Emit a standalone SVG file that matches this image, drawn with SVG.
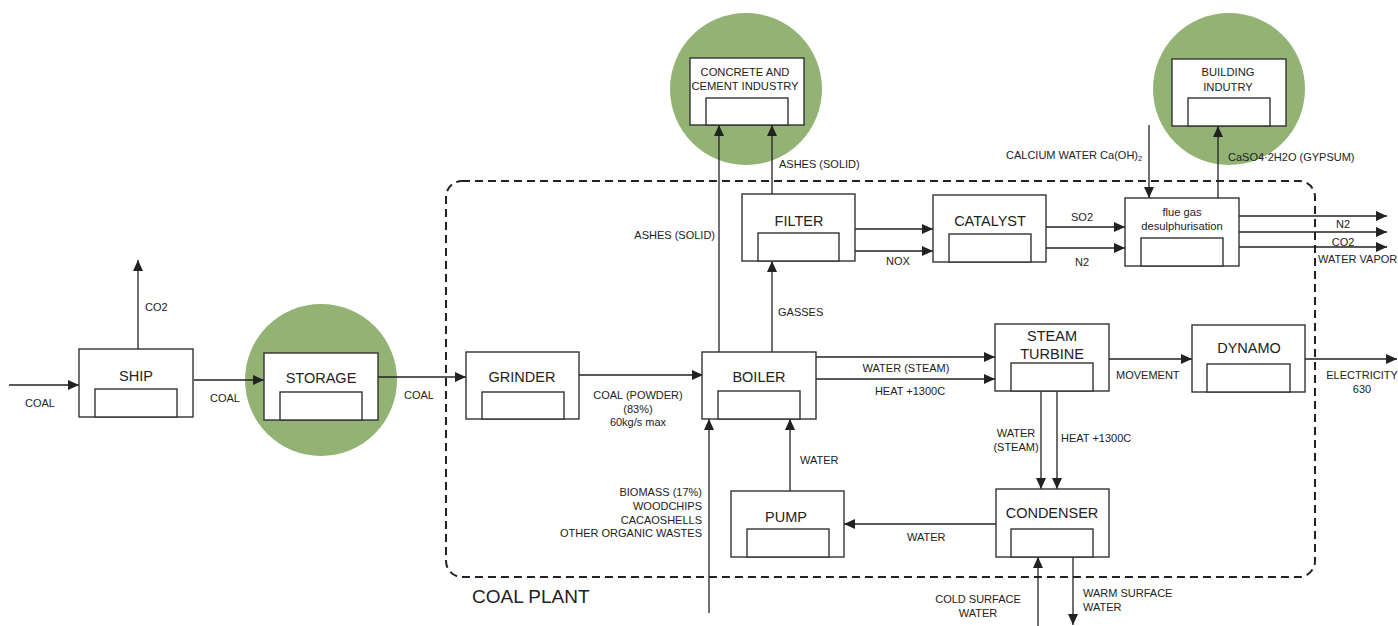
<svg xmlns="http://www.w3.org/2000/svg" width="1398" height="626" viewBox="0 0 1398 626">
  <defs>
    <marker id="arrow" markerUnits="userSpaceOnUse" markerWidth="12" markerHeight="10" refX="11" refY="5" orient="auto">
      <path d="M0,0 L11,5 L0,10 z" fill="#222"/>
    </marker>
    <style>
      .box { fill: #fff; stroke: #333; stroke-width: 1.4; }
      .inner { fill: #fff; stroke: #333; stroke-width: 1.4; }
      .hub { fill: #93b374; }
      .title { font-family: "Liberation Sans", Arial, sans-serif; font-size: 14.5px; fill: #222; text-anchor: middle; }
      .small { font-family: "Liberation Sans", Arial, sans-serif; font-size: 11.2px; fill: #222; text-anchor: middle; }
      .lbl { font-family: "Liberation Sans", Arial, sans-serif; font-size: 11px; fill: #222; }
      .mid { text-anchor: middle; }
      .end { text-anchor: end; }
      .flow { fill: none; stroke: #222; stroke-width: 1.3; }
      .arr { marker-end: url(#arrow); }
      .border { fill: none; stroke: #222; stroke-width: 2; stroke-dasharray: 8 5; }
    </style>
  </defs>

  <rect width="1398" height="626" fill="#fff"/>

  <!-- plant boundary -->
  <rect class="border" x="446" y="181" width="869" height="396" rx="16" ry="16"/>
  <text x="472" y="603" font-family="Liberation Sans, Arial, sans-serif" font-size="19" fill="#222">COAL PLANT</text>

  <!-- green highlight discs -->
  <circle class="hub" cx="321" cy="380" r="76"/>
  <circle class="hub" cx="746" cy="89" r="76"/>
  <circle class="hub" cx="1229" cy="89" r="76"/>

  <!-- connectors -->
  <g id="connectors">
    <line class="flow arr" x1="9" y1="385" x2="79" y2="385"/>
    <line class="flow arr" x1="138" y1="349" x2="138" y2="260"/>
    <line class="flow arr" x1="194" y1="380" x2="264" y2="380"/>
    <line class="flow arr" x1="378" y1="377" x2="466" y2="377"/>
    <line class="flow arr" x1="579" y1="375" x2="703" y2="375"/>
    <line class="flow arr" x1="719" y1="352" x2="719" y2="125"/>
    <line class="flow arr" x1="772" y1="194" x2="772" y2="125"/>
    <line class="flow arr" x1="772" y1="352" x2="772" y2="261"/>
    <line class="flow arr" x1="855" y1="229" x2="933" y2="229"/>
    <line class="flow arr" x1="855" y1="251" x2="933" y2="251"/>
    <line class="flow arr" x1="1046" y1="227" x2="1125" y2="227"/>
    <line class="flow arr" x1="1046" y1="248" x2="1125" y2="248"/>
    <line class="flow arr" x1="1149" y1="125" x2="1149" y2="198"/>
    <line class="flow arr" x1="1218" y1="198" x2="1218" y2="126"/>
    <line class="flow arr" x1="1239" y1="216" x2="1387" y2="216"/>
    <line class="flow arr" x1="1239" y1="232" x2="1387" y2="232"/>
    <line class="flow arr" x1="1239" y1="247" x2="1387" y2="247"/>
    <line class="flow arr" x1="816" y1="357" x2="995" y2="357"/>
    <line class="flow arr" x1="816" y1="379" x2="995" y2="379"/>
    <line class="flow arr" x1="1109" y1="359" x2="1192" y2="359"/>
    <line class="flow arr" x1="1305" y1="359" x2="1397" y2="359"/>
    <line class="flow arr" x1="1041" y1="392" x2="1041" y2="489"/>
    <line class="flow arr" x1="1057" y1="392" x2="1057" y2="489"/>
    <line class="flow arr" x1="996" y1="524" x2="844" y2="524"/>
    <line class="flow arr" x1="790" y1="491" x2="790" y2="419"/>
    <line class="flow arr" x1="709" y1="613" x2="709" y2="419"/>
    <line class="flow arr" x1="1038" y1="626" x2="1038" y2="557"/>
    <line class="flow arr" x1="1073" y1="557" x2="1073" y2="625"/>
  </g>

  <!-- connector labels -->
  <g id="labels">
    <text class="lbl" x="25" y="407">COAL</text>
    <text class="lbl" x="145" y="311">CO2</text>
    <text class="lbl" x="210" y="402">COAL</text>
    <text class="lbl" x="404" y="399">COAL</text>
    <text class="lbl mid" x="638" y="399">COAL (POWDER)</text>
    <text class="lbl mid" x="638" y="413">(83%)</text>
    <text class="lbl mid" x="638" y="426">60kg/s max</text>
    <text class="lbl end" x="715" y="239">ASHES (SOLID)</text>
    <text class="lbl" x="779" y="168">ASHES (SOLID)</text>
    <text class="lbl" x="778" y="316">GASSES</text>
    <text class="lbl" x="886" y="265">NOX</text>
    <text class="lbl mid" x="1082" y="221">SO2</text>
    <text class="lbl mid" x="1082" y="266">N2</text>
    <text class="lbl" x="1006" y="159">CALCIUM WATER Ca(OH)<tspan font-size="7.5" dy="2">2</tspan></text>
    <text class="lbl" x="1228" y="161">CaSO4·2H2O (GYPSUM)</text>
    <text class="lbl mid" x="1343" y="228">N2</text>
    <text class="lbl mid" x="1343" y="246">CO2</text>
    <text class="lbl" x="1318" y="263">WATER VAPOR</text>
    <text class="lbl mid" x="906" y="372">WATER (STEAM)</text>
    <text class="lbl mid" x="910" y="395">HEAT +1300C</text>
    <text class="lbl" x="1116" y="379">MOVEMENT</text>
    <text class="lbl mid" x="1362" y="379">ELECTRICITY</text>
    <text class="lbl mid" x="1362" y="393">630</text>
    <text class="lbl mid" x="1016" y="437">WATER</text>
    <text class="lbl mid" x="1016" y="451">(STEAM)</text>
    <text class="lbl" x="1061" y="442">HEAT +1300C</text>
    <text class="lbl" x="800" y="464">WATER</text>
    <text class="lbl" x="907" y="541">WATER</text>
    <text class="lbl end" x="702" y="496">BIOMASS (17%)</text>
    <text class="lbl end" x="702" y="510">WOODCHIPS</text>
    <text class="lbl end" x="702" y="524">CACAOSHELLS</text>
    <text class="lbl end" x="702" y="537">OTHER ORGANIC WASTES</text>
    <text class="lbl mid" x="978" y="603">COLD SURFACE</text>
    <text class="lbl mid" x="978" y="617">WATER</text>
    <text class="lbl" x="1083" y="597">WARM SURFACE</text>
    <text class="lbl" x="1083" y="611">WATER</text>
  </g>

  <!-- nodes -->
  <g id="ship">
    <rect class="box" x="79" y="349" width="114" height="68"/>
    <rect class="inner" x="95" y="389" width="82" height="28"/>
    <text class="title" x="136" y="381">SHIP</text>
  </g>
  <g id="storage">
    <rect class="box" x="264" y="353" width="114" height="67"/>
    <rect class="inner" x="280" y="392" width="82" height="28"/>
    <text class="title" x="321" y="383">STORAGE</text>
  </g>
  <g id="grinder">
    <rect class="box" x="466" y="352" width="113" height="67"/>
    <rect class="inner" x="482" y="392" width="82" height="27"/>
    <text class="title" x="522" y="382">GRINDER</text>
  </g>
  <g id="boiler">
    <rect class="box" x="702" y="352" width="114" height="67"/>
    <rect class="inner" x="718" y="391" width="82" height="28"/>
    <text class="title" x="759" y="382">BOILER</text>
  </g>
  <g id="concrete">
    <rect class="box" x="690" y="58" width="114" height="67"/>
    <rect class="inner" x="706" y="98" width="82" height="27"/>
    <text class="small" x="745" y="76">CONCRETE AND</text>
    <text class="small" x="745" y="90">CEMENT INDUSTRY</text>
  </g>
  <g id="filter">
    <rect class="box" x="742" y="194" width="113" height="67"/>
    <rect class="inner" x="758" y="233" width="81" height="28"/>
    <text class="title" x="799" y="226">FILTER</text>
  </g>
  <g id="catalyst">
    <rect class="box" x="933" y="195" width="113" height="67"/>
    <rect class="inner" x="949" y="234" width="82" height="28"/>
    <text class="title" x="990" y="226">CATALYST</text>
  </g>
  <g id="fgd">
    <rect class="box" x="1125" y="198" width="114" height="68"/>
    <rect class="inner" x="1141" y="238" width="82" height="28"/>
    <text class="small" x="1182" y="216">flue gas</text>
    <text class="small" x="1182" y="230">desulphurisation</text>
  </g>
  <g id="building">
    <rect class="box" x="1172" y="59" width="114" height="67"/>
    <rect class="inner" x="1188" y="98" width="82" height="28"/>
    <text class="small" x="1228" y="76">BUILDING</text>
    <text class="small" x="1228" y="91">INDUTRY</text>
  </g>
  <g id="turbine">
    <rect class="box" x="995" y="324" width="114" height="67"/>
    <rect class="inner" x="1011" y="363" width="82" height="28"/>
    <text class="title" x="1052" y="341">STEAM</text>
    <text class="title" x="1052" y="359">TURBINE</text>
  </g>
  <g id="dynamo">
    <rect class="box" x="1192" y="325" width="113" height="67"/>
    <rect class="inner" x="1207" y="364" width="83" height="28"/>
    <text class="title" x="1249" y="353">DYNAMO</text>
  </g>
  <g id="condenser">
    <rect class="box" x="996" y="489" width="113" height="68"/>
    <rect class="inner" x="1011" y="529" width="82" height="28"/>
    <text class="title" x="1052" y="518">CONDENSER</text>
  </g>
  <g id="pump">
    <rect class="box" x="731" y="491" width="113" height="66"/>
    <rect class="inner" x="747" y="529" width="82" height="28"/>
    <text class="title" x="786" y="522">PUMP</text>
  </g>
</svg>
